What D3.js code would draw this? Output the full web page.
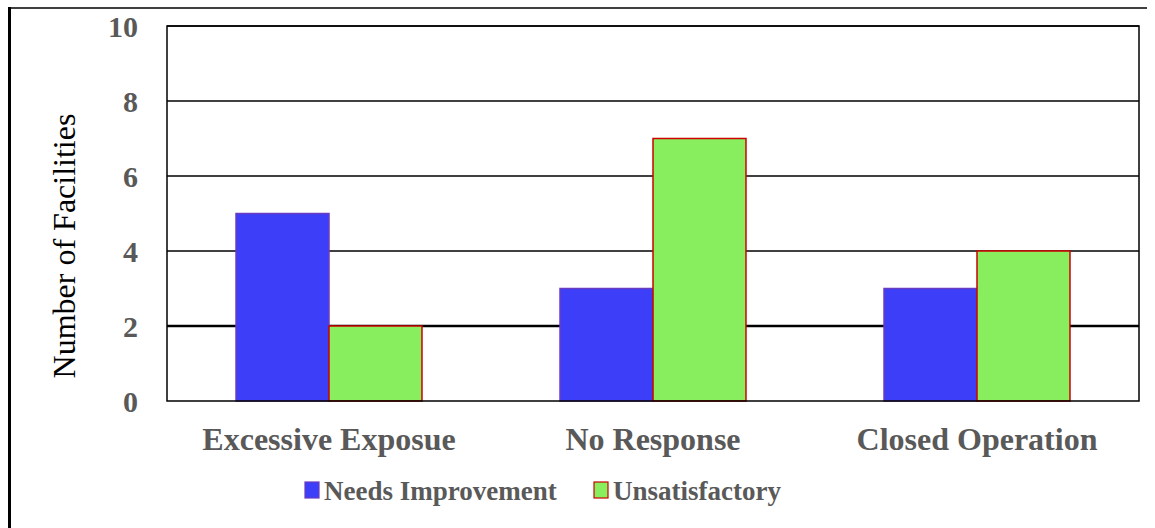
<!DOCTYPE html>
<html>
<head>
<meta charset="utf-8">
<script src="https://cdn.jsdelivr.net/npm/d3@7"></script>
<style>
  html, body { margin: 0; padding: 0; background: #fff; }
  svg { display: block; }
</style>
</head>
<body>
<svg id="chart" width="1155" height="528"></svg>
<script>
// Facility inspection outcomes by category
const categories = ["Excessive Exposue", "No Response", "Closed Operation"];
const seriesNames = ["Needs Improvement", "Unsatisfactory"];
const needsImprovement = [5, 3, 3];
const unsatisfactory = [2, 7, 4];
const yTicks = [0, 2, 4, 6, 8, 10];

const seriesValues = [needsImprovement, unsatisfactory];
const fills = ["#3c3ff7", "#88ee5d"];
const strokes = ["#6a3cc0", "#cc0000"];
const textColor = "#595959";
const serif = "'Liberation Serif', 'Times New Roman', Times, 'DejaVu Serif', serif";

const svg = d3.select("#chart");
const W = 1155, H = 528;

// outer frame: top rule and heavy left rule
svg.append("line").attr("x1", 9).attr("x2", 1147).attr("y1", 8).attr("y2", 8)
  .attr("stroke", "#000").attr("stroke-width", 1.5);
svg.append("line").attr("x1", 9.5).attr("x2", 9.5).attr("y1", 7).attr("y2", H)
  .attr("stroke", "#000").attr("stroke-width", 3);

const plot = { left: 167, right: 1139, top: 26, bottom: 401 };

const y = d3.scaleLinear().domain([0, 10]).range([plot.bottom, plot.top]);
const x0 = d3.scaleBand().domain(categories).range([plot.left, plot.right])
  .paddingInner(0.426).paddingOuter(0.213);
const x1 = d3.scaleBand().domain(seriesNames).range([0, x0.bandwidth()]);

const g = svg.append("g");

// horizontal gridlines
g.selectAll("line.grid").data(yTicks.filter(d => d > 0)).join("line")
  .attr("class", "grid")
  .attr("x1", plot.left).attr("x2", plot.right)
  .attr("y1", d => y(d)).attr("y2", d => y(d))
  .attr("stroke", "#000")
  .attr("stroke-width", d => d === 2 ? 2.5 : 1.5);

// bars
categories.forEach((cat, ci) => {
  seriesNames.forEach((s, si) => {
    const v = seriesValues[si][ci];
    g.append("rect")
      .attr("x", x0(cat) + x1(s))
      .attr("y", y(v))
      .attr("width", x1.bandwidth())
      .attr("height", y(0) - y(v))
      .attr("fill", fills[si])
      .attr("stroke", strokes[si])
      .attr("stroke-width", 1.5);
  });
});

// plot frame
g.append("rect")
  .attr("x", plot.left).attr("y", plot.top)
  .attr("width", plot.right - plot.left).attr("height", plot.bottom - plot.top)
  .attr("fill", "none").attr("stroke", "#000").attr("stroke-width", 1.5);

// y axis tick labels
const yAxis = d3.axisLeft(y).tickValues(yTicks).tickSize(0).tickPadding(29);
const ya = svg.append("g").attr("transform", `translate(${plot.left},0)`).call(yAxis);
ya.attr("font-family", null);
ya.select(".domain").remove();
ya.selectAll("text")
  .attr("fill", textColor)
  .style("font-family", serif)
  .style("font-size", "30px")
  .style("font-weight", "bold")
  .attr("dy", "0.34em");

// category labels
const xAxis = d3.axisBottom(x0).tickSize(0).tickPadding(0);
const xa = svg.append("g").attr("transform", `translate(0,${plot.bottom})`).call(xAxis);
xa.attr("font-family", null);
xa.select(".domain").remove();
xa.selectAll("text")
  .attr("fill", textColor)
  .attr("y", 49)
  .attr("dy", 0)
  .style("font-family", serif)
  .style("font-size", "32px")
  .style("font-weight", "bold");

// y axis title
svg.append("text")
  .attr("transform", `translate(75,246) rotate(-90)`)
  .attr("text-anchor", "middle")
  .attr("fill", "#000")
  .style("font-family", serif)
  .style("font-size", "32px")
  .text("Number of Facilities");

// legend
const legendX = [305, 594];
const legend = svg.append("g");
seriesNames.forEach((s, si) => {
  legend.append("rect")
    .attr("x", legendX[si]).attr("y", 482)
    .attr("width", 14).attr("height", 16)
    .attr("fill", fills[si]).attr("stroke", strokes[si]).attr("stroke-width", 1.2);
  legend.append("text")
    .attr("x", legendX[si] + 19).attr("y", 500)
    .attr("fill", textColor)
    .style("font-family", serif)
    .style("font-size", "27px")
    .style("font-weight", "bold")
    .text(s);
});
</script>
</body>
</html>
